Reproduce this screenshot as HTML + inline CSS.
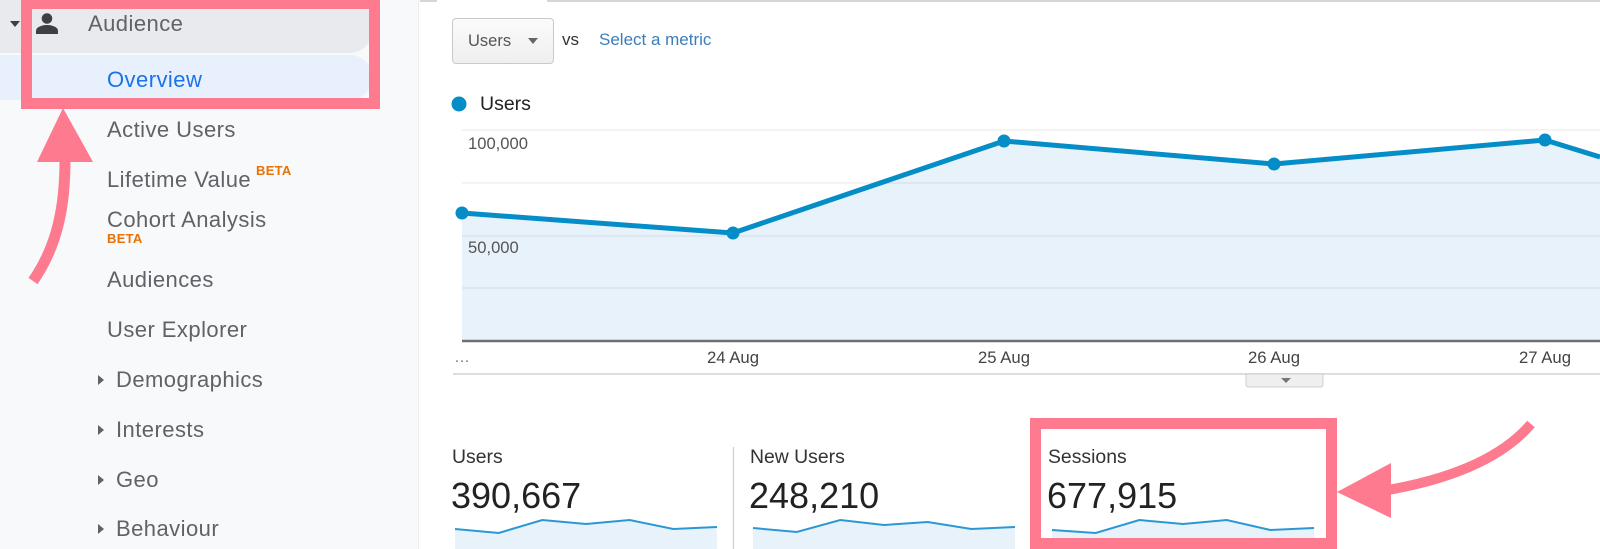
<!DOCTYPE html>
<html><head><meta charset="utf-8">
<style>
*{margin:0;padding:0;box-sizing:border-box}
html,body{width:1600px;height:549px;overflow:hidden;background:#fff;font-family:"Liberation Sans",Arial,sans-serif}
.a{position:absolute;white-space:nowrap}
.t{z-index:2}
.s{position:absolute;z-index:2;white-space:nowrap;font-size:22px;line-height:22px;height:22px;color:#5f6368;letter-spacing:0.45px}
.beta{position:absolute;z-index:2;font-size:13px;line-height:13px;font-weight:bold;color:#e8710a;letter-spacing:0.3px}
.xl{position:absolute;z-index:2;font-size:16.7px;line-height:18px;color:#444;width:100px;text-align:center;margin-left:-50px}
.yl{position:absolute;z-index:2;font-size:16.6px;line-height:18px;color:#555}
.lab{position:absolute;z-index:2;font-size:19.4px;line-height:20px;color:#333}
.num{position:absolute;z-index:2;font-size:36px;line-height:36px;color:#222}
</style></head><body>
<!-- sidebar -->
<div class="a" style="left:0;top:0;width:419px;height:549px;background:#f8f9fa;border-right:1px solid #eceef0"></div>
<div class="a" style="left:0;top:-10px;width:372px;height:63px;background:#e8eaed;border-radius:0 0 22px 0"></div>
<div class="a" style="left:0;top:55px;width:372px;height:45px;background:#e8f0fe;border-radius:0 22px 22px 0"></div>

<div class="s" style="left:88px;top:13px;color:#5f6368">Audience</div>
<div class="s" style="left:107px;top:69px;color:#1a73e8">Overview</div>
<div class="s" style="left:107px;top:119px">Active Users</div>
<div class="s" style="left:107px;top:169px">Lifetime Value</div>
<div class="beta" style="left:256px;top:164px">BETA</div>
<div class="s" style="left:107px;top:209px">Cohort Analysis</div>
<div class="beta" style="left:107px;top:232px">BETA</div>
<div class="s" style="left:107px;top:269px">Audiences</div>
<div class="s" style="left:107px;top:319px">User Explorer</div>
<div class="s" style="left:116px;top:369px">Demographics</div>
<div class="s" style="left:116px;top:419px">Interests</div>
<div class="s" style="left:116px;top:469px">Geo</div>
<div class="s" style="left:116px;top:518px">Behaviour</div>

<!-- main top line -->
<div class="a" style="left:420px;top:0;width:17px;height:2px;background:#d6d6d6"></div>
<div class="a" style="left:547px;top:0;width:1053px;height:2px;background:#d6d6d6"></div>

<!-- dropdown -->
<div class="a" style="left:452px;top:18px;width:102px;height:46px;border:1px solid #c9c9c9;border-radius:4px;background:linear-gradient(#fbfbfb,#efefef)"></div>
<div class="a t" style="left:468px;top:32px;font-size:16.5px;line-height:18px;color:#555">Users</div>
<div class="a t" style="left:562px;top:31px;font-size:17px;line-height:18px;color:#333">vs</div>
<div class="a t" style="left:599px;top:31px;font-size:17px;line-height:18px;color:#3a7dbb">Select a metric</div>

<!-- legend -->
<div class="a t" style="left:480px;top:94px;font-size:19.5px;line-height:20px;color:#222">Users</div>

<!-- axis labels -->
<div class="yl" style="left:468px;top:135px">100,000</div>
<div class="yl" style="left:468px;top:239px">50,000</div>
<div class="a t" style="left:454px;top:349px;font-size:16px;line-height:18px;color:#777">…</div>
<div class="xl" style="left:733px;top:349px">24 Aug</div>
<div class="xl" style="left:1004px;top:349px">25 Aug</div>
<div class="xl" style="left:1274px;top:349px">26 Aug</div>
<div class="xl" style="left:1545px;top:349px">27 Aug</div>

<!-- stats -->
<div class="lab" style="left:452px;top:447px">Users</div>
<div class="num" style="left:451px;top:478px">390,667</div>
<div class="lab" style="left:750px;top:447px">New Users</div>
<div class="num" style="left:749px;top:478px">248,210</div>
<div class="lab" style="left:1048px;top:447px">Sessions</div>
<div class="num" style="left:1047px;top:478px">677,915</div>

<svg class="a" style="left:0;top:0;z-index:1" width="1600" height="549" viewBox="0 0 1600 549">
  <!-- sidebar icons -->
  <polygon points="10,21 20,21 15,27" fill="#3c4043"/>
  <circle cx="47" cy="18.5" r="5.3" fill="#3c4043"/>
  <path d="M36 34 L36 31 C36 26.5 43 25 47 25 C51 25 58 26.5 58 31 L58 34 Z" fill="#3c4043"/>
  <polygon points="98,375 104,380 98,385" fill="#5f6368"/>
  <polygon points="98,425 104,430 98,435" fill="#5f6368"/>
  <polygon points="98,475 104,480 98,485" fill="#5f6368"/>
  <polygon points="98,524 104,529 98,534" fill="#5f6368"/>

  <!-- dropdown caret -->
  <polygon points="528,38 538,38 533,44" fill="#666"/>
  <!-- legend dot -->
  <circle cx="459" cy="104" r="7.5" fill="#058dc7"/>

  <!-- chart -->
  <polygon points="462,213 733,233 1004,141 1274,164 1545,140 1600,157 1600,341 462,341" fill="#e8f2fa"/>
  <g stroke="rgba(0,0,0,0.07)" stroke-width="1.2">
    <line x1="462" y1="130" x2="1600" y2="130"/>
    <line x1="462" y1="183" x2="1600" y2="183"/>
    <line x1="462" y1="236" x2="1600" y2="236"/>
    <line x1="462" y1="288" x2="1600" y2="288"/>
  </g>
  <polyline points="462,213 733,233 1004,141 1274,164 1545,140 1600,157" fill="none" stroke="#058dc7" stroke-width="5" stroke-linejoin="round"/>
  <g fill="#058dc7">
    <circle cx="462" cy="213" r="6.5"/>
    <circle cx="733" cy="233" r="6.5"/>
    <circle cx="1004" cy="141" r="6.5"/>
    <circle cx="1274" cy="164" r="6.5"/>
    <circle cx="1545" cy="140" r="6.5"/>
  </g>
  <line x1="462" y1="341" x2="1600" y2="341" stroke="#6f6f6f" stroke-width="2.6"/>
  <line x1="453" y1="374" x2="1600" y2="374" stroke="#dedede" stroke-width="2"/>
  <path d="M1246 374 L1323 374 L1323 384 Q1323 387 1320 387 L1249 387 Q1246 387 1246 384 Z" fill="#efefef" stroke="#cfcfcf" stroke-width="1"/>
  <polygon points="1281,378 1291,378 1286,383" fill="#777"/>

  <!-- divider -->
  <line x1="733.5" y1="447" x2="733.5" y2="549" stroke="#cfcfcf" stroke-width="1.2"/>
  <line x1="1031.5" y1="447" x2="1031.5" y2="549" stroke="#cfcfcf" stroke-width="1.2"/>

  <!-- sparklines -->
  <g>
    <polygon points="455,529 498.7,533 542.3,520 586,524 629.7,520 673.3,529 717,527 717,549 455,549" fill="#e8f2fa"/>
    <polyline points="455,529 498.7,533 542.3,520 586,524 629.7,520 673.3,529 717,527" fill="none" stroke="#2b98d4" stroke-width="2"/>
    <polygon points="753,528 796.7,532 840.3,520 884,525 927.7,522 971.3,529 1015,527 1015,549 753,549" fill="#e8f2fa"/>
    <polyline points="753,528 796.7,532 840.3,520 884,525 927.7,522 971.3,529 1015,527" fill="none" stroke="#2b98d4" stroke-width="2"/>
    <polygon points="1052,530 1095.7,533 1139.3,520 1183,524 1226.7,520 1270.3,530 1314,528 1314,549 1052,549" fill="#e8f2fa"/>
    <polyline points="1052,530 1095.7,533 1139.3,520 1183,524 1226.7,520 1270.3,530 1314,528" fill="none" stroke="#2b98d4" stroke-width="2"/>
  </g>

  <!-- pink annotations -->
  <rect x="26.5" y="3.5" width="348" height="100" fill="none" stroke="#fe7a8e" stroke-width="11"/>
  <polygon points="63,108 37,162 93,162" fill="#fe7a8e"/>
  <path d="M65 160 C65 205 58 245 33 281" fill="none" stroke="#fe7a8e" stroke-width="11"/>

  <rect x="1035.5" y="423.5" width="296" height="120" fill="none" stroke="#fe7a8e" stroke-width="11"/>
  <polygon points="1337,492 1391,463 1391,518" fill="#fe7a8e"/>
  <path d="M1388 490 Q1490 472 1531 424" fill="none" stroke="#fe7a8e" stroke-width="10"/>
</svg>
</body></html>
